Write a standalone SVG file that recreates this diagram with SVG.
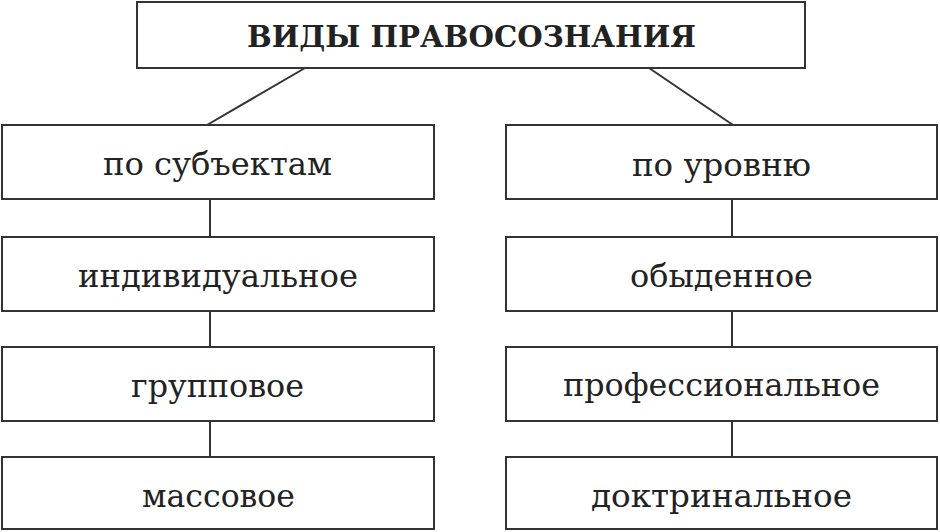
<svg xmlns="http://www.w3.org/2000/svg" width="940" height="532" viewBox="0 0 940 532">
<style>
.box{fill:#fff;stroke:#333;stroke-width:2}
.ln{stroke:#333;stroke-width:2;fill:none}
.t{font-family:"DejaVu Serif","Liberation Serif",serif;font-size:31px;fill:#222;text-anchor:middle}
.h{font-family:"DejaVu Serif","Liberation Serif",serif;font-size:30px;font-weight:bold;fill:#222;text-anchor:middle}
</style>
<rect width="940" height="532" fill="#fff"/>
<g id="connectors">
<line class="ln" x1="305" y1="68" x2="207" y2="125"/>
<line class="ln" x1="649" y1="68" x2="733" y2="125"/>
<line class="ln" x1="210" y1="199" x2="210" y2="237"/>
<line class="ln" x1="210" y1="311" x2="210" y2="347"/>
<line class="ln" x1="210" y1="421" x2="210" y2="457"/>
<line class="ln" x1="732" y1="199" x2="732" y2="237"/>
<line class="ln" x1="732" y1="311" x2="732" y2="347"/>
<line class="ln" x1="732" y1="421" x2="732" y2="457"/>
</g>
<g id="root"><rect class="box" x="137" y="2" width="668" height="66"/><text class="h" x="471.5" y="47" textLength="449" lengthAdjust="spacingAndGlyphs">ВИДЫ ПРАВОСОЗНАНИЯ</text></g>
<g id="subj"><rect class="box" x="2" y="125" width="432" height="74"/><text class="t" x="217.5" y="175" textLength="229" lengthAdjust="spacingAndGlyphs">по субъектам</text></g>
<g id="indiv"><rect class="box" x="2" y="237" width="432" height="74"/><text class="t" x="218" y="287" textLength="280" lengthAdjust="spacingAndGlyphs">индивидуальное</text></g>
<g id="group"><rect class="box" x="2" y="347" width="432" height="74"/><text class="t" x="217.5" y="397" textLength="173" lengthAdjust="spacingAndGlyphs">групповое</text></g>
<g id="mass"><rect class="box" x="2" y="457" width="432" height="72"/><text class="t" x="218.5" y="507" textLength="153" lengthAdjust="spacingAndGlyphs">массовое</text></g>
<g id="level"><rect class="box" x="506" y="125" width="431" height="74"/><text class="t" x="721.5" y="176" textLength="179" lengthAdjust="spacingAndGlyphs">по уровню</text></g>
<g id="ordinary"><rect class="box" x="506" y="237" width="431" height="74"/><text class="t" x="721.5" y="287" textLength="183" lengthAdjust="spacingAndGlyphs">обыденное</text></g>
<g id="prof"><rect class="box" x="506" y="347" width="431" height="74"/><text class="t" x="721.5" y="396" textLength="317" lengthAdjust="spacingAndGlyphs">профессиональное</text></g>
<g id="doctr"><rect class="box" x="506" y="457" width="431" height="72"/><text class="t" x="721.5" y="507" textLength="261" lengthAdjust="spacingAndGlyphs">доктринальное</text></g>
</svg>
